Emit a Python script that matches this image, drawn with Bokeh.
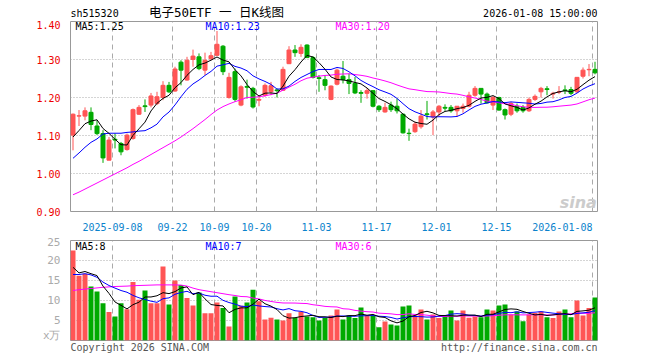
from bokeh.plotting import figure
from bokeh.layouts import column
from bokeh.models import (Range1d, FixedTicker, Label, NumeralTickFormatter, Grid,
                          LinearAxis)
from bokeh.core.properties import value
from bokeh.embed import file_html
from bokeh.resources import INLINE

# ---------------- data ----------------
opens = [1.101, 1.151, 1.151, 1.161, 1.125, 1.105, 1.035, 1.090, 1.079, 1.063,
         1.092, 1.156, 1.178, 1.180, 1.184, 1.200, 1.232, 1.217, 1.293, 1.246,
         1.300, 1.307, 1.272, 1.302, 1.311, 1.335, 1.200, 1.268, 1.180, 1.229,
         1.224, 1.193, 1.206, 1.215, 1.220, 1.219, 1.289, 1.325, 1.316, 1.338,
         1.305, 1.252, 1.247, 1.195, 1.235, 1.256, 1.247, 1.237, 1.213, 1.211,
         1.218, 1.177, 1.162, 1.180, 1.177, 1.156, 1.106, 1.110, 1.123, 1.157,
         1.149, 1.162, 1.174, 1.174, 1.165, 1.171, 1.177, 1.206, 1.224, 1.209,
         1.180, 1.200, 1.168, 1.156, 1.177, 1.174, 1.165, 1.195, 1.215, 1.223,
         1.209, 1.214, 1.220, 1.221, 1.215, 1.256, 1.273, 1.274]
highs = [1.158, 1.167, 1.174, 1.174, 1.140, 1.114, 1.096, 1.105, 1.083, 1.105,
         1.171, 1.180, 1.195, 1.212, 1.215, 1.243, 1.241, 1.281, 1.298, 1.307,
         1.326, 1.316, 1.318, 1.320, 1.375, 1.338, 1.265, 1.276, 1.232, 1.247,
         1.228, 1.206, 1.237, 1.241, 1.224, 1.281, 1.335, 1.338, 1.340, 1.340,
         1.309, 1.259, 1.259, 1.232, 1.276, 1.296, 1.263, 1.254, 1.219, 1.224,
         1.219, 1.180, 1.186, 1.189, 1.197, 1.158, 1.118, 1.136, 1.167, 1.191,
         1.167, 1.180, 1.182, 1.180, 1.177, 1.184, 1.215, 1.230, 1.224, 1.213,
         1.204, 1.202, 1.171, 1.189, 1.184, 1.180, 1.200, 1.208, 1.228, 1.230,
         1.215, 1.230, 1.232, 1.228, 1.254, 1.279, 1.288, 1.294]
lows = [1.061, 1.125, 1.140, 1.114, 1.101, 1.028, 1.035, 1.066, 1.048, 1.060,
        1.089, 1.154, 1.162, 1.174, 1.180, 1.193, 1.212, 1.215, 1.232, 1.244,
        1.281, 1.272, 1.259, 1.298, 1.309, 1.259, 1.197, 1.189, 1.177, 1.197,
        1.171, 1.177, 1.202, 1.206, 1.200, 1.218, 1.288, 1.307, 1.307, 1.305,
        1.250, 1.215, 1.219, 1.193, 1.232, 1.237, 1.209, 1.209, 1.186, 1.197,
        1.174, 1.162, 1.160, 1.162, 1.158, 1.105, 1.086, 1.107, 1.118, 1.142,
        1.101, 1.149, 1.165, 1.160, 1.149, 1.160, 1.174, 1.202, 1.184, 1.184,
        1.167, 1.165, 1.142, 1.151, 1.160, 1.160, 1.162, 1.191, 1.200, 1.206,
        1.197, 1.209, 1.209, 1.206, 1.212, 1.250, 1.256, 1.261]
closes = [1.156, 1.152, 1.165, 1.129, 1.105, 1.041, 1.088, 1.088, 1.057, 1.101,
          1.168, 1.174, 1.176, 1.204, 1.202, 1.232, 1.215, 1.275, 1.272, 1.298,
          1.309, 1.276, 1.298, 1.310, 1.340, 1.268, 1.253, 1.195, 1.228, 1.227,
          1.175, 1.195, 1.232, 1.231, 1.218, 1.274, 1.325, 1.318, 1.332, 1.305,
          1.253, 1.250, 1.232, 1.230, 1.272, 1.247, 1.237, 1.212, 1.211, 1.218,
          1.177, 1.168, 1.174, 1.168, 1.165, 1.107, 1.105, 1.130, 1.151, 1.155,
          1.162, 1.177, 1.172, 1.165, 1.177, 1.177, 1.206, 1.224, 1.209, 1.186,
          1.200, 1.167, 1.154, 1.184, 1.165, 1.165, 1.195, 1.203, 1.224, 1.221,
          1.211, 1.215, 1.218, 1.211, 1.253, 1.272, 1.274, 1.265]
volumes = [22.5, 16.2, 16.7, 13.5, 12.25, 9.3, 7.1, 6.0, 9.3, 7.8,
           14.6, 10.2, 12.5, 9.3, 9.3, 18.5, 9.0, 15.0, 13.9, 10.6,
           8.75, 12.0, 6.8, 6.8, 9.5, 8.1, 3.5, 11.0, 8.7, 9.5,
           12.7, 9.8, 5.25, 5.7, 5.25, 5.0, 6.8, 5.7, 7.2, 6.0,
           5.8, 5.0, 5.6, 6.25, 7.75, 5.25, 6.25, 5.6, 8.25, 6.25,
           6.25, 3.3, 4.75, 4.0, 3.75, 8.5, 8.75, 6.25, 7.75, 5.25,
           6.5, 5.6, 6.0, 7.5, 5.0, 7.5, 5.7, 6.0, 5.8, 7.75,
           7.5, 8.75, 9.0, 6.5, 7.25, 4.8, 6.5, 6.9, 7.25, 5.8,
           5.6, 7.25, 7.75, 5.8, 10.0, 6.25, 8.1, 10.75]

# moving-average values at the start of the window (history not shown on chart)
ma5_head = [1.096, 1.113, 1.131, 1.138]
ma10_head = [1.040, 1.054, 1.069, 1.082, 1.091, 1.104, 1.106, 1.106, 1.106]
ma30_head = [0.944, 0.951, 0.959, 0.967, 0.975, 0.983, 0.991, 0.999, 1.007, 1.015,
             1.024, 1.032, 1.041, 1.050, 1.059, 1.068, 1.077, 1.086, 1.096, 1.107,
             1.118, 1.130, 1.142, 1.155, 1.167, 1.176, 1.183, 1.189, 1.194]
vma5_head = [18.3, 16.9, 17.25, 16.7]
vma10_head = [16.5, 16.5, 16.7, 16.4, 15.8, 14.6, 13.75, 13.1, 12.5]
vma30_head = [12.5, 12.7, 12.85, 13.0, 13.15, 13.3, 13.4, 13.5, 13.55, 13.6,
              13.7, 13.75, 13.8, 13.85, 13.9, 13.9, 13.9, 13.9, 13.85, 13.6,
              13.1, 12.7, 12.45, 12.2, 11.95, 11.7, 11.45, 11.25, 11.0]

tick_idx = [7, 17, 24, 31, 41, 51, 61, 71, 87]
tick_labels = ["2025-09-08", "09-22", "10-09", "10-20", "11-03", "11-17",
               "12-01", "12-15", "2026-01-08"]
price_ticks = [0.90, 1.00, 1.10, 1.20, 1.30, 1.40]
vol_ticks = [0, 5, 10, 15, 20, 25]
vol_grid = [5, 10, 15, 20]

# ---------------- styling ----------------
RED = "#ff5555"
GREEN = "#00aa00"
MONO = "DejaVu Sans Mono"
CJK = "Noto Sans CJK SC"
GRID = "#aaaaaa"
BLUE_TXT = "#0a82cc"
W = 660
FRAME_W = 527
LEFT = 70
RIGHT = W - LEFT - FRAME_W


def moving_avg(vals, n, head):
    out = list(head)
    for i in range(len(head), len(vals)):
        out.append(sum(vals[i - n + 1:i + 1]) / n)
    return out


n = len(closes)
SLOT = 6.0               # px per trading day
off = 2.5 / SLOT         # bar centre inside its slot
xs = [i + off for i in range(n)]
colors = [RED if c >= o else GREEN for o, c in zip(opens, closes)]
tops = [max(o, c) for o, c in zip(opens, closes)]
bots = [min(o, c) for o, c in zip(opens, closes)]
ma5 = moving_avg(closes, 5, ma5_head)
ma10 = moving_avg(closes, 10, ma10_head)
ma30 = moving_avg(closes, 30, ma30_head)
vma5 = moving_avg(volumes, 5, vma5_head)
vma10 = moving_avg(volumes, 10, vma10_head)
vma30 = moving_avg(volumes, 30, vma30_head)
x_hi = FRAME_W / SLOT


def base_fig(y0, y1, fh, top, bottom):
    f = figure(frame_width=FRAME_W, frame_height=fh,
               x_range=Range1d(0, x_hi), y_range=Range1d(y0, y1),
               x_axis_type=None, output_backend="svg", toolbar_location=None,
               min_border_left=LEFT, min_border_right=RIGHT,
               min_border_top=top, min_border_bottom=bottom,
               background_fill_color="white", border_fill_color="white",
               outline_line_color="#999999", outline_line_width=1)
    f.add_layout(Grid(dimension=0, ticker=FixedTicker(ticks=tick_idx),
                      grid_line_color=GRID, grid_line_dash="5 4", grid_line_width=1))
    f.yaxis.axis_line_color = None
    f.yaxis.major_tick_line_color = None
    f.yaxis.minor_tick_line_color = None
    f.yaxis.major_label_standoff = 4
    f.ygrid.grid_line_color = GRID
    f.ygrid.grid_line_dash = "1 2"
    return f


def strip_fig(h):
    # a text strip whose frame lines up with the panels' frames (page px)
    f = figure(frame_width=FRAME_W, frame_height=h,
               x_range=Range1d(LEFT, LEFT + FRAME_W), y_range=Range1d(0, 1),
               x_axis_type=None, y_axis_type=None, output_backend="svg",
               toolbar_location=None, min_border_left=LEFT,
               min_border_right=RIGHT, min_border_top=0, min_border_bottom=0,
               outline_line_color=None, background_fill_color="white",
               border_fill_color="white")
    return f


def txt(f, x, y, s, color, size="10px", font=MONO, align="left"):
    f.text(x=[x], y=[y], text=[s], text_color=color, text_font=value(font),
           text_font_size=size, text_align=align, text_baseline="middle")


# ---------------- header ----------------
hdr = strip_fig(20)
txt(hdr, LEFT, 0.35, "sh515320", "#000000")
txt(hdr, 216, 0.38, "电子50ETF 一 日K线图", "#000000", size="12.5px",
    font=MONO + ", " + CJK, align="center")
txt(hdr, LEFT + FRAME_W, 0.35, "2026-01-08 15:00:00", "#000000", align="right")

# ---------------- price panel ----------------
p = base_fig(0.90, 1.40, 190, 1, 24)
p.yaxis.ticker = FixedTicker(ticks=price_ticks)
p.ygrid.ticker = FixedTicker(ticks=price_ticks)
p.yaxis.formatter = NumeralTickFormatter(format="0.00")
p.yaxis.major_label_text_color = "#ee0000"
p.yaxis.major_label_text_font = MONO
p.yaxis.major_label_text_font_size = "10px"

overrides = {t: lab for t, lab in zip(tick_idx, tick_labels)}
overrides[tick_idx[-1]] = tick_labels[-1] + "\u00a0" * len(tick_labels[-1])
xax = LinearAxis(ticker=FixedTicker(ticks=tick_idx), major_label_overrides=overrides,
                 axis_line_color=None, major_tick_line_color=None,
                 minor_tick_line_color=None, major_label_standoff=4,
                 major_label_text_color=BLUE_TXT, major_label_text_font=MONO,
                 major_label_text_font_size="10px")
p.add_layout(xax, "below")

p.segment(x0=xs, y0=lows, x1=xs, y1=highs, line_color=colors, line_width=1)
p.vbar(x=xs, width=4.0 / SLOT, top=tops, bottom=bots,
       fill_color=colors, line_color=colors, line_width=1)
p.line(xs, ma30, line_color="#ff00ff", line_width=1)
p.line(xs, ma10, line_color="#0000ff", line_width=1)
p.line(xs, ma5, line_color="#000000", line_width=1)

ppx = 0.5 / 190.0  # price per pixel


def plab(f, x, y, text, color, size="10px", font=MONO, align="left", style="normal"):
    f.add_layout(Label(x=x, y=y, text=text, text_color=color, text_font=font,
                       text_font_size=size, text_align=align,
                       text_baseline="middle", text_font_style=style))


def xpx(px):  # page px -> data x
    return (px - LEFT) / SLOT


plab(p, xpx(75), 1.40 - 5 * ppx, "MA5:1.25", "#000000")
plab(p, xpx(205), 1.40 - 5 * ppx, "MA10:1.23", "#0000ff")
plab(p, xpx(335), 1.40 - 5 * ppx, "MA30:1.20", "#ff00ff")
plab(p, x_hi - 0.1, 0.90 + 9 * ppx, "sina", "#cccccc", size="16px",
     font="DejaVu Sans", align="right", style="bold italic")

# ---------------- volume panel ----------------
q = base_fig(0, 25, 100, 5, 1)
q.yaxis.ticker = FixedTicker(ticks=vol_ticks)
q.ygrid.ticker = FixedTicker(ticks=vol_grid)
q.yaxis.major_label_overrides = {0: "x万"}
q.yaxis.major_label_text_color = "#aaaaaa"
q.yaxis.major_label_text_font = MONO
q.yaxis.major_label_text_font_size = "11px"

q.vbar(x=xs, width=5.0 / SLOT, top=volumes, bottom=0, fill_color=colors, line_color=None)
q.line(xs, vma30, line_color="#ff00ff", line_width=1)
q.line(xs, vma10, line_color="#0000ff", line_width=1)
q.line(xs, vma5, line_color="#000000", line_width=1)

vpx = 25 / 100.0
plab(q, xpx(75), 25 - 6 * vpx, "MA5:8", "#000000")
plab(q, xpx(205), 25 - 6 * vpx, "MA10:7", "#0000ff")
plab(q, xpx(335), 25 - 6 * vpx, "MA30:6", "#ff00ff")

# ---------------- footer ----------------
ftr = strip_fig(15)
txt(ftr, LEFT, 0.6, "Copyright 2026 SINA.COM", "#555555")
txt(ftr, LEFT + FRAME_W, 0.6, "http://finance.sina.com.cn", "#555555", align="right")

layout = column(hdr, p, q, ftr, spacing=0)
open("out.html", "w").write(file_html(layout, INLINE))
